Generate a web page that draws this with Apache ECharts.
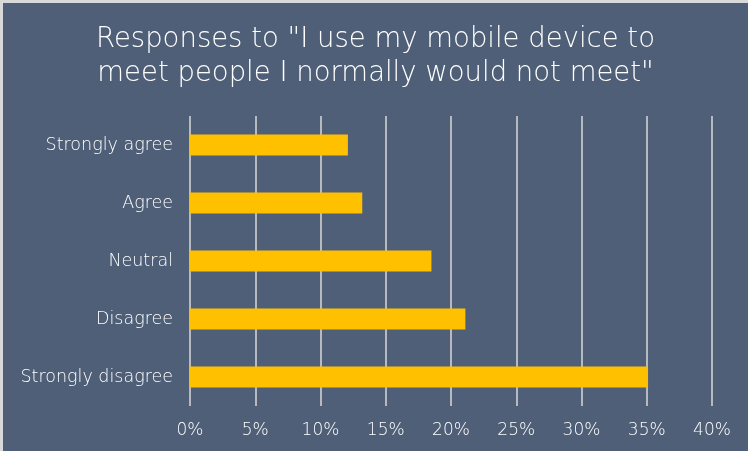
<!DOCTYPE html>
<html>
<head>
<meta charset="utf-8">
<script src="https://cdn.jsdelivr.net/npm/echarts@6/dist/echarts.min.js"></script>
<style>
  html, body { margin: 0; padding: 0; background: #d9d9d9; width: 748px; height: 451px; overflow: hidden; }
  #chart { position: absolute; left: 3px; top: 3px; width: 745px; height: 448px; }
</style>
</head>
<body>
<div id="chart"></div>
<script>
const titleText = 'Responses to "I use my mobile device to\nmeet people I normally would not meet"';
const categories = ['Strongly agree', 'Agree', 'Neutral', 'Disagree', 'Strongly disagree'];
const values = [0.121, 0.132, 0.185, 0.211, 0.351];
const xTicks = [0, 0.05, 0.10, 0.15, 0.20, 0.25, 0.30, 0.35, 0.40];

const chart = echarts.init(document.getElementById('chart'));
const fontFam = '"DejaVu Sans", "Noto Sans", sans-serif';
chart.setOption({
  backgroundColor: '#4F5F77',
  animation: false,
  title: {
    text: titleText,
    left: 'center',
    top: 15,
    textStyle: { color: '#ffffff', fontSize: 27.5, fontWeight: 200, fontFamily: fontFam, lineHeight: 34 }
  },
  grid: { left: 187, top: 113, width: 522, height: 290, containLabel: false },
  xAxis: {
    type: 'value',
    min: xTicks[0],
    max: xTicks[xTicks.length - 1],
    interval: 0.05,
    axisLine: { show: false },
    axisTick: { show: false },
    splitLine: { show: true, lineStyle: { color: '#D9D9D9', width: 1.5 } },
    axisLabel: {
      color: '#ffffff', fontSize: 17, fontWeight: 200, fontFamily: fontFam, margin: 16,
      formatter: v => Math.round(v * 100) + '%'
    }
  },
  yAxis: {
    type: 'category',
    data: categories,
    inverse: true,
    axisLine: { show: false },
    axisTick: { show: false },
    axisLabel: { color: '#ffffff', fontSize: 17.5, fontWeight: 200, fontFamily: fontFam, margin: 17 }
  },
  series: [{
    type: 'bar',
    data: values,
    barWidth: 21,
    itemStyle: { color: '#FFC000' }
  }]
});
</script>
</body>
</html>
